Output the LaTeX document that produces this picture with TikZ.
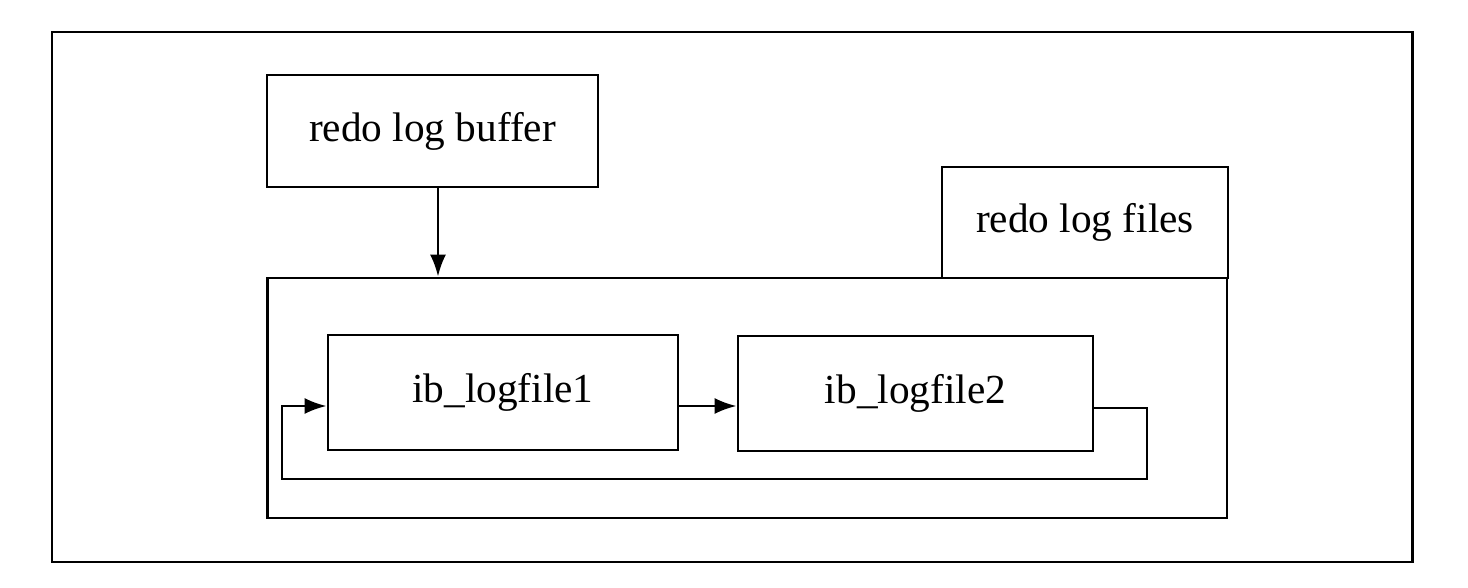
\documentclass[tikz,border=0pt]{standalone}
\usepackage{fontspec}
\setmainfont{Liberation Serif}
\usetikzlibrary{arrows.meta}

\begin{document}
\begin{tikzpicture}[x=0.02cm, y=-0.02cm,
	box/.style={draw, line width=1.6pt, inner sep=0pt, font=\fontsize{23.5}{28}\selectfont},
	flow/.style={line width=1.5pt, -{Latex[length=4.4mm, width=3.2mm]}}]
	\useasboundingbox (0,0) rectangle (1468,588);
	\draw [line width=1.7pt] (52,32) rectangle (1412,562);
	% boxes
	\node [box, minimum width=6.62cm, minimum height=2.24cm] (buffer) at (432.5,131) {redo log buffer};
	\node [box, minimum width=5.72cm, minimum height=2.22cm] (files) at (1085,222.5) {redo log files};
	\node [box, minimum width=19.2cm, minimum height=4.8cm] (group) at (747,398) {};
	\node [box, minimum width=7cm, minimum height=2.3cm] (log1) at (503,392.5) {ib\_logfile1};
	\node [box, minimum width=7.1cm, minimum height=2.3cm] (log2) at (915.5,393.5) {ib\_logfile2};
	% loop corners
	\coordinate (loopR) at (1147,479);
	\coordinate (loopL) at (282,479);
	% arrows
	\draw [flow] ([xshift=0.11cm]buffer.south) -- ([xshift=0.11cm]buffer.south |- group.north);
	\draw [flow] ([yshift=-0.27cm]log1.east) -- ([yshift=-0.27cm]log1.east -| log2.west);
	\draw [flow] ([yshift=-0.29cm]log2.east) -| (loopR) -- (loopL) |- ([yshift=-0.27cm]log1.west);
\end{tikzpicture}
\end{document}
